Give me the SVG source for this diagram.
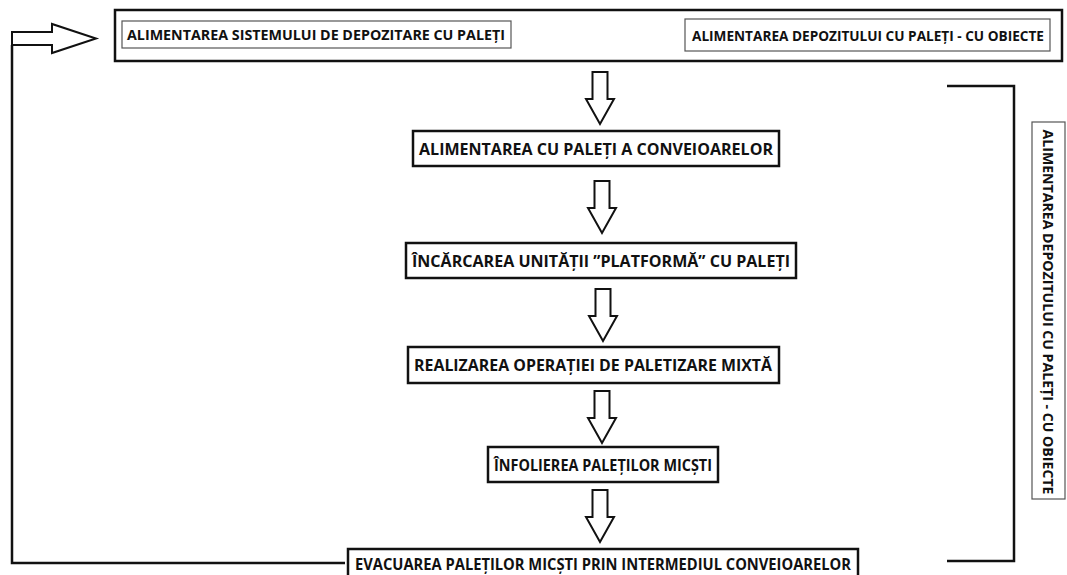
<svg xmlns="http://www.w3.org/2000/svg" width="1067" height="575" viewBox="0 0 1067 575">
<style>
.bg{fill:#fff}
.box{fill:#fff;stroke:#111;stroke-width:2.5}
.thin{fill:#fff;stroke:#555;stroke-width:1.2}
.t{font-family:"Open Sans","Liberation Sans",sans-serif;font-weight:bold;font-size:15.5px;fill:#111;text-anchor:middle;dominant-baseline:central}
.s{font-size:14.5px}
.arr{fill:#fff;stroke:#111;stroke-width:2;stroke-linejoin:miter}
.ln{fill:none;stroke:#111;stroke-width:2.5}
</style>
<defs>
<path id="down" d="M-7.5,0 H7.5 V27 H14 L0,52 L-14,27 H-7.5 Z"/>
</defs>
<rect class="bg" width="1067" height="575"/>
<g id="top">
<rect class="box" x="115" y="10" width="947" height="51"/>
<g id="n-sistem">
<rect class="thin" x="122" y="21" width="389" height="27"/>
<text class="t s" x="316" y="34.5" textLength="378" lengthAdjust="spacingAndGlyphs">ALIMENTAREA SISTEMULUI DE DEPOZITARE CU PALEȚI</text>
</g>
<g id="n-depozit-top">
<rect class="thin" x="685" y="19" width="365" height="32"/>
<text class="t s" x="868" y="35" textLength="352" lengthAdjust="spacingAndGlyphs">ALIMENTAREA DEPOZITULUI CU PALEȚI - CU OBIECTE</text>
</g>
</g>
<g id="n-conveioare">
<rect class="box" x="413" y="131" width="366" height="35"/>
<text class="t" x="596" y="149" textLength="354" lengthAdjust="spacingAndGlyphs">ALIMENTAREA CU PALEȚI A CONVEIOARELOR</text>
</g>
<g id="n-platforma">
<rect class="box" x="406" y="243" width="390" height="35"/>
<text class="t" x="601" y="261" textLength="378" lengthAdjust="spacingAndGlyphs">ÎNCĂRCAREA UNITĂȚII ”PLATFORMĂ” CU PALEȚI</text>
</g>
<g id="n-paletizare">
<rect class="box" x="408" y="347" width="371" height="36"/>
<text class="t" x="593" y="365" textLength="358" lengthAdjust="spacingAndGlyphs">REALIZAREA OPERAȚIEI DE PALETIZARE MIXTĂ</text>
</g>
<g id="n-infoliere">
<rect class="box" x="488" y="447" width="230" height="35"/>
<text class="t" x="603" y="465" textLength="218" lengthAdjust="spacingAndGlyphs">ÎNFOLIEREA PALEȚILOR MICȘTI</text>
</g>
<g id="n-evacuare">
<rect class="box" x="348" y="549" width="510" height="34"/>
<text class="t" x="603" y="564" textLength="496" lengthAdjust="spacingAndGlyphs">EVACUAREA PALEȚILOR MICȘTI PRIN INTERMEDIUL CONVEIOARELOR</text>
</g>
<g id="n-vertical">
<rect class="thin" x="1032" y="122" width="33" height="377"/>
<text class="t s" transform="translate(1048.5,312) rotate(90)" textLength="365" lengthAdjust="spacingAndGlyphs">ALIMENTAREA DEPOZITULUI CU PALEȚI - CU OBIECTE</text>
</g>
<g id="connectors">
<use href="#down" class="arr" x="600" y="72"/>
<use href="#down" class="arr" x="602" y="181"/>
<use href="#down" class="arr" x="603" y="289"/>
<use href="#down" class="arr" x="602" y="391"/>
<use href="#down" class="arr" x="600" y="490"/>
<path class="arr" d="M12,32 H52 V24 L96,38.5 L52,53 V45 H12 Z"/>
<path class="ln" d="M12,45 V563 H345"/>
<path class="ln" d="M947,86 H1014 V561 H947"/>
</g>
</svg>
